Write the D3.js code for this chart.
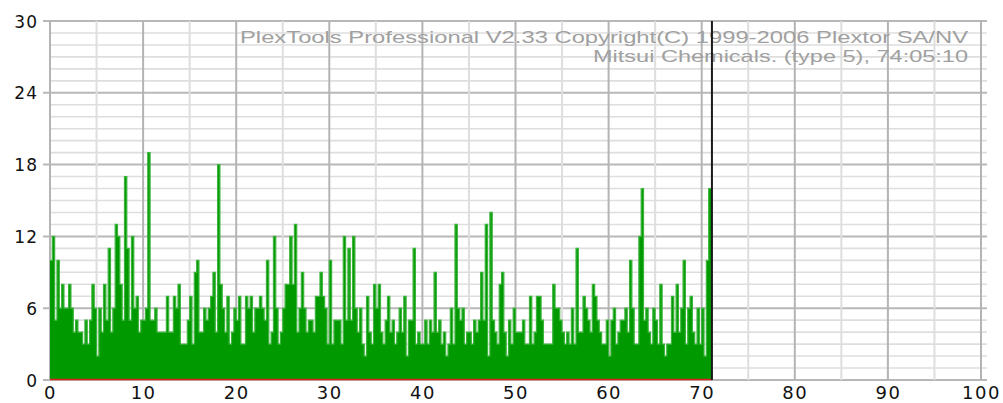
<!DOCTYPE html>
<html>
<head>
<meta charset="utf-8">
<script src="https://cdn.jsdelivr.net/npm/d3@7"></script>
<style>
  html, body { margin: 0; padding: 0; background: #ffffff; }
  svg { display: block; }
</style>
</head>
<body>
<svg id="chart" width="1003" height="403"></svg>
<script>
// ---- data ----
const xTicks = [0, 10, 20, 30, 40, 50, 60, 70, 80, 90, 100];
const yTicks = [0, 6, 12, 18, 24, 30];
const titleLines = [
  "PlexTools Professional V2.33 Copyright(C) 1999-2006 Plextor SA/NV",
  "Mitsui Chemicals. (type 5), 74:05:10"
];
const scanEnd = 71.1;     // position of the black end-of-scan marker
const sampleStep = 0.25;  // x distance between samples
// error counts per sample, left to right, starting at 0
const errors = [
  10,12,5,10,6,8,6,6,8,6,4,5,4,4,3,5,3,5,8,6,2,6,4,8,5,11,4,6,13,12,8,5,17,11,5,12,6,7,4,5,5,6,19,5,5,6,4,4,4,4,7,4,4,7,6,8,3,3,3,5,7,3,9,10,4,4,6,5,6,7,9,
  4,18,8,6,4,7,3,4,6,5,7,3,3,7,6,7,4,6,6,7,6,5,10,3,4,12,6,3,4,6,8,8,12,8,13,4,6,9,6,4,5,5,4,7,7,9,7,6,3,10,3,5,5,5,3,12,5,11,5,12,6,4,6,3,2,7,4,3,8,6,8,
  4,3,5,7,4,5,3,4,6,4,7,2,5,5,11,3,4,3,3,5,3,5,4,9,4,5,3,4,2,3,6,3,13,6,5,6,3,4,4,3,5,4,5,9,5,13,2,14,5,4,3,8,9,4,2,5,3,6,4,4,4,5,3,3,7,3,4,7,7,5,
  3,3,3,3,8,6,6,5,4,3,4,3,6,3,11,4,4,7,6,5,4,8,7,5,4,3,3,5,2,5,6,3,4,5,5,6,4,10,6,3,3,12,
  16,5,6,4,3,6,5,3,8,3,2,3,3,7,4,8,4,6,10,3,6,7,4,3,6,3,6,2,10,16
];
const pifSeries = [0, 0]; // red baseline series (start, end)

// ---- layout ----
const svg = d3.select("#chart");
const x = d3.scaleLinear().domain([0, 100]).range([50, 981]);
const y = d3.scaleLinear().domain([0, 30]).range([380, 21]);
const gridRight = 987;

// horizontal grid: minor every 1, major every 6
const g = svg.append("g");
d3.range(0, 31).forEach(v => {
  const major = v % 6 === 0;
  g.append("line")
    .attr("x1", major ? 43 : x(0)).attr("x2", gridRight)
    .attr("y1", y(v)).attr("y2", y(v))
    .attr("stroke", major ? "#b8b8b8" : "#dedede")
    .attr("stroke-width", major ? 2 : 1.6);
});
// vertical grid: every 5, major every 10
d3.range(0, 101, 5).forEach(v => {
  const major = v % 10 === 0;
  g.append("line")
    .attr("x1", x(v)).attr("x2", x(v))
    .attr("y1", y(30)).attr("y2", y(0))
    .attr("stroke", major ? "#b4b4b4" : "#dedede")
    .attr("stroke-width", 2);
});

// title text (right aligned)
const tl = svg.append("g").attr("fill", "#a0a0a0")
  .style("font-family", "'Liberation Sans', Arial, sans-serif").style("font-size", "17px");
tl.append("text").attr("x", 240).attr("y", 43)
  .attr("textLength", 728).attr("lengthAdjust", "spacingAndGlyphs").text(titleLines[0]);
tl.append("text").attr("x", 593).attr("y", 62)
  .attr("textLength", 375).attr("lengthAdjust", "spacingAndGlyphs").text(titleLines[1]);

// step area for error counts
const pts = errors.map((v, i) => ({ x: Math.min(i * sampleStep, scanEnd), v }));
pts.push({ x: scanEnd, v: errors[errors.length - 1] });
const area = d3.area().curve(d3.curveStepAfter)
  .x(d => x(d.x)).y0(y(0)).y1(d => y(d.v));
const line = d3.line().curve(d3.curveStepAfter)
  .x(d => x(d.x)).y(d => y(d.v));
svg.append("path").datum(pts).attr("d", area).attr("fill", "#009900");
svg.append("path").datum(pts).attr("d", line)
  .attr("fill", "none").attr("stroke", "#3cb43c").attr("stroke-width", 1.2);

// red baseline series
svg.append("line")
  .attr("x1", x(0)).attr("x2", x(scanEnd))
  .attr("y1", y(pifSeries[0]) - 0.5).attr("y2", y(pifSeries[1]) - 0.5)
  .attr("stroke", "#e02020").attr("stroke-width", 1.5);

// end of scan marker
svg.append("line")
  .attr("x1", x(scanEnd)).attr("x2", x(scanEnd))
  .attr("y1", y(30)).attr("y2", y(0))
  .attr("stroke", "#1a1a1a").attr("stroke-width", 2);

// axes labels
const font = "'DejaVu Sans', sans-serif";
const yAxis = svg.append("g").attr("transform", "translate(43,0)")
  .call(d3.axisLeft(y).tickValues(yTicks).tickSize(0).tickPadding(5));
yAxis.select(".domain").remove();
yAxis.selectAll("text").style("font-family", font).style("font-size", "17px")
  .style("letter-spacing", "1px").attr("fill", "#111").attr("dy", "0.36em");

const xAxis = svg.append("g").attr("transform", "translate(0,380)")
  .call(d3.axisBottom(x).tickValues(xTicks).tickSize(0).tickPadding(6));
xAxis.select(".domain").remove();
xAxis.selectAll("text").style("font-family", font).style("font-size", "18px")
  .style("letter-spacing", "1.5px").attr("fill", "#111");
</script>
</body>
</html>
